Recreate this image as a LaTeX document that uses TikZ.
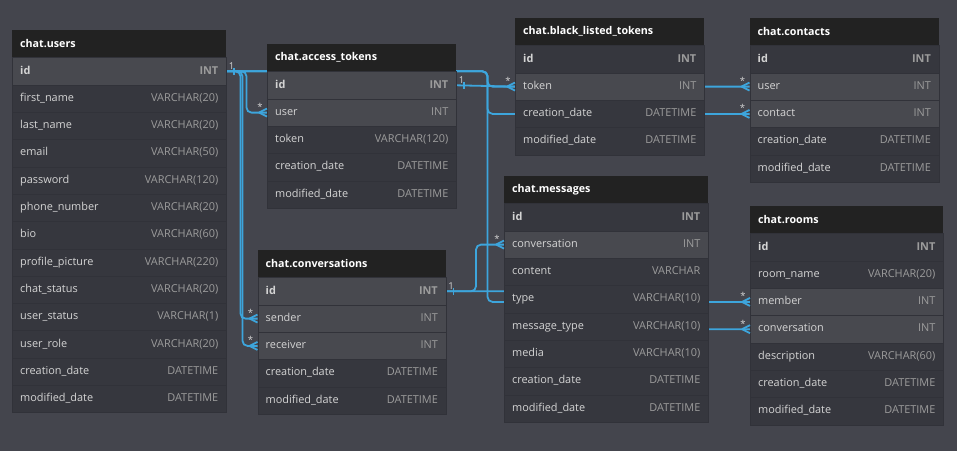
\documentclass[tikz,border=0pt]{standalone}
\usepackage{fontspec}
\setmainfont{Open Sans}
\usepackage{xcolor}

\definecolor{bgcol}{HTML}{44454D}
\definecolor{rowcol}{HTML}{36373E}
\definecolor{litecol}{HTML}{48494F}
\definecolor{headcol}{HTML}{222222}
\definecolor{sepcol}{HTML}{313239}
\definecolor{namecol}{HTML}{D4D4D4}
\definecolor{typecol}{HTML}{9C9C9C}
\definecolor{linkcol}{HTML}{3DA5DC}

\pgfdeclarelayer{back}
\pgfdeclarelayer{wires}
\pgfsetlayers{back,wires,main}

% one table: name, left, top, width, rows field/type/fill
\newcommand{\dbtable}[5]{%
  \node[thead, minimum width=#4, anchor=north west] (#1) at (#2,#3) {};
  \node[htext, anchor=west] at ([xshift=8]#1.west) {chat.#1};
  \foreach \fld/\typ/\bg [count=\i] in {#5} {
    \node[trow, fill=\bg, minimum width=#4, anchor=north west] (#1-\fld)
      at ([yshift={-(\i-1)*27.3}]#1.south west) {};
    \node[ntext, anchor=west] at ([xshift=8]#1-\fld.west) {\ifnum\i=1 \bfseries\fi\fld};
    \node[ttext, anchor=east] at ([xshift=-8]#1-\fld.east) {\ifnum\i=1 \bfseries\fi\typ};
  }%
}
% many end and one end of a link
\newcommand{\crowfoot}[1]{%
  \draw[link] (#1) ++(-8,0) -- ++(8,-4) (#1) ++(-8,0) -- ++(8,4);
  \node[card, anchor=base] at ([xshift=-7,yshift=2]#1) {*};
}
\newcommand{\onemark}[1]{%
  \draw[link] ([xshift=7.5]#1) ++(0,-3.5) -- ++(0,7);
  \node[card, anchor=base] at ([xshift=5,yshift=2]#1) {1};
}

\begin{document}
\catcode`\_=12
\begin{tikzpicture}[x=1pt, y=-1pt]
    \tikzstyle{thead}=[fill=headcol, minimum height=27, inner sep=0]
    \tikzstyle{trow}=[draw=sepcol, line width=0.5pt, minimum height=27.3, inner sep=0]
    \tikzstyle{htext}=[text=white, font=\fontsize{10.7}{12}\selectfont\bfseries, inner sep=0]
    \tikzstyle{ntext}=[text=namecol, font=\fontsize{10.9}{12}\selectfont, inner sep=0, text height=8, text depth=2.5]
    \tikzstyle{ttext}=[text=typecol, font=\fontsize{10.9}{12}\selectfont, inner sep=0, text height=8, text depth=2.5]
    \tikzstyle{link}=[draw=linkcol, line width=1.8pt, rounded corners=5pt]
    \tikzstyle{card}=[text=namecol, font=\fontsize{9.5}{10}\selectfont, inner sep=0]

    \begin{pgfonlayer}{back}
        \fill[bgcol] (0,0) rectangle (957,451);
    \end{pgfonlayer}

    \dbtable{users}{12}{30}{214}{id/INT/litecol, first_name/VARCHAR(20)/rowcol,
        last_name/VARCHAR(20)/rowcol, email/VARCHAR(50)/rowcol, password/VARCHAR(120)/rowcol,
        phone_number/VARCHAR(20)/rowcol, bio/VARCHAR(60)/rowcol,
        profile_picture/VARCHAR(220)/rowcol, chat_status/VARCHAR(20)/rowcol,
        user_status/VARCHAR(1)/rowcol, user_role/VARCHAR(20)/rowcol,
        creation_date/DATETIME/rowcol, modified_date/DATETIME/rowcol}
    \dbtable{access_tokens}{267}{44}{189}{id/INT/litecol, user/INT/litecol,
        token/VARCHAR(120)/rowcol, creation_date/DATETIME/rowcol, modified_date/DATETIME/rowcol}
    \dbtable{black_listed_tokens}{515}{18}{189}{id/INT/rowcol, token/INT/litecol,
        creation_date/DATETIME/rowcol, modified_date/DATETIME/rowcol}
    \dbtable{contacts}{749.5}{18}{189}{id/INT/rowcol, user/INT/litecol, contact/INT/litecol,
        creation_date/DATETIME/rowcol, modified_date/DATETIME/rowcol}
    \dbtable{conversations}{257.5}{250}{188}{id/INT/litecol, sender/INT/litecol,
        receiver/INT/litecol, creation_date/DATETIME/rowcol, modified_date/DATETIME/rowcol}
    \dbtable{messages}{504}{176}{204}{id/INT/rowcol, conversation/INT/litecol,
        content/VARCHAR/rowcol, type/VARCHAR(10)/rowcol, message_type/VARCHAR(10)/rowcol,
        media/VARCHAR(10)/rowcol, creation_date/DATETIME/rowcol, modified_date/DATETIME/rowcol}
    \dbtable{rooms}{750}{206}{193}{id/INT/rowcol, room_name/VARCHAR(20)/rowcol,
        member/INT/litecol, conversation/INT/litecol, description/VARCHAR(60)/rowcol,
        creation_date/DATETIME/rowcol, modified_date/DATETIME/rowcol}

    % links run behind the tables
    \begin{pgfonlayer}{wires}
        \draw[link] (users-id.east) -- ++(20,0) |- (access_tokens-user.west);
        \draw[link] (users-id.east) -- ++(14,0) |- (conversations-sender.west);
        \draw[link] (users-id.east) -- ++(16,0) |- (conversations-receiver.west);
        \draw[link] (users-id.east) -- ++(261,0) |- (contacts-user.west);
        \draw[link] (users-id.east) -- ++(261,0) |- (contacts-contact.west);
        \draw[link] (users-id.east) -- ++(261,0) |- (rooms-member.west);
        \draw[link] (access_tokens-id.east) -- (black_listed_tokens-token.west);
        \draw[link] (conversations-id.east) -- ++(30,0) |- (messages-conversation.west);
        \draw[link] (conversations-id.east) -- ++(150,0) |- (rooms-conversation.west);
    \end{pgfonlayer}

    \onemark{users-id.east}
    \onemark{access_tokens-id.east}
    \onemark{conversations-id.east}
    \crowfoot{access_tokens-user.west}
    \crowfoot{conversations-sender.west}
    \crowfoot{conversations-receiver.west}
    \crowfoot{black_listed_tokens-token.west}
    \crowfoot{contacts-user.west}
    \crowfoot{contacts-contact.west}
    \crowfoot{messages-conversation.west}
    \crowfoot{rooms-member.west}
    \crowfoot{rooms-conversation.west}
\end{tikzpicture}
\end{document}
